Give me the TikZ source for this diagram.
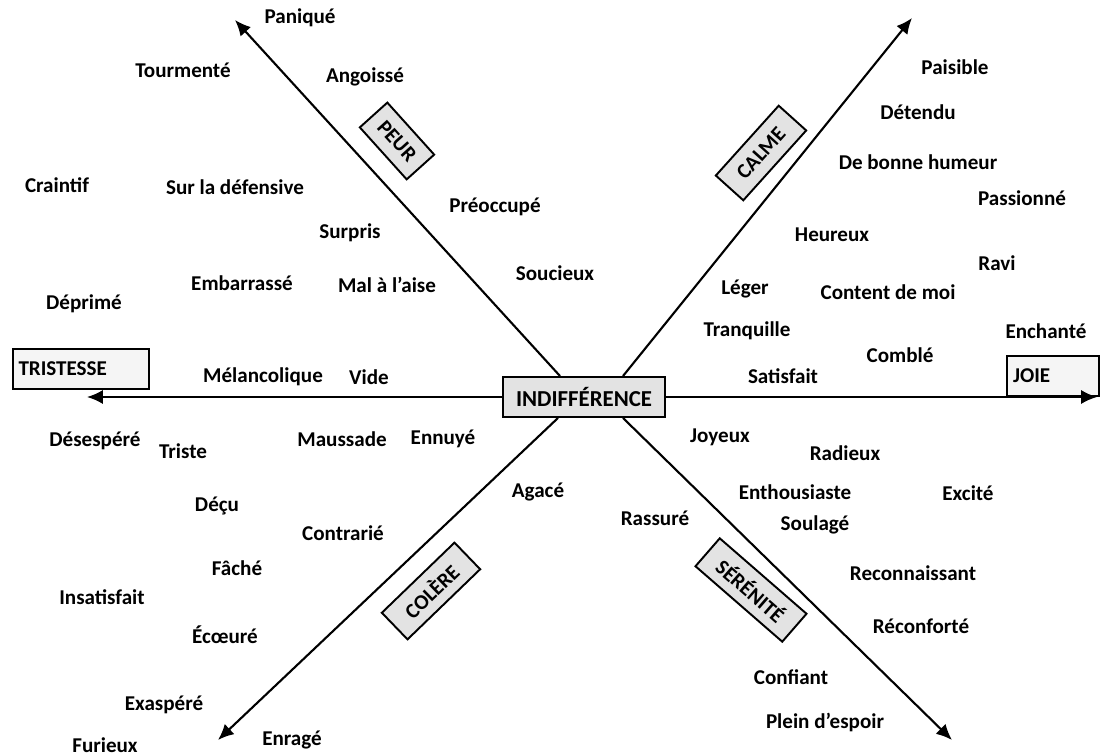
\documentclass[tikz,border=0pt]{standalone}
\usepackage{fontspec}
\setmainfont{Carlito}
\usetikzlibrary{arrows.meta}

\begin{document}
\begin{tikzpicture}[
  x=0.02cm, y=-0.02cm,
  word/.style   = {font=\fontsize{12}{14}\selectfont\bfseries, inner sep=1pt},
  pole/.style   = {draw, line width=1.1pt, fill=gray!8, font=\fontsize{12}{14}\selectfont\bfseries,
                   minimum height=0.8cm, text width=2.5cm, align=left},
  center/.style = {draw, line width=1.1pt, fill=gray!22, font=\fontsize{13}{15}\selectfont\bfseries,
                   minimum width=3.24cm, minimum height=0.8cm},
  tag/.style    = {draw, line width=1.1pt, fill=gray!22, font=\fontsize{12}{14}\selectfont\bfseries,
                   minimum height=0.74cm, inner xsep=3pt},
  arr/.style    = {-{Latex[length=9pt,width=8pt]}, line width=1.2pt}
]
  \useasboundingbox (0,0) rectangle (1101,756);

  %% Center and poles
  \node[center] (ind) at (584,397) {INDIFFÉRENCE};
  \node[pole]   (tristesse) at (81,369) {TRISTESSE};
  \node[pole, text width=1.6cm] (joie) at (1053,376) {JOIE};

  \coordinate (tristip) at (87,397);
  \coordinate (joietip) at (1097,397);
  \coordinate (peurtip) at (235,20);
  \coordinate (calmetip) at (912,18);
  \coordinate (coleretip) at (218,740);
  \coordinate (serenitip) at (952,740);

  \draw[arr] (ind.west) -- (tristip);
  \draw[arr] (ind.east) -- (joietip);
  \draw[arr] ([xshift=-0.48cm]ind.north) -- (peurtip);
  \draw[arr] ([xshift=0.78cm]ind.north)  -- (calmetip);
  \draw[arr] ([xshift=-0.52cm]ind.south) -- (coleretip);
  \draw[arr] ([xshift=0.78cm]ind.south)  -- (serenitip);

  %% Axis tags
  \node[tag, rotate=-48, minimum width=1.4cm]  (peur)     at (397,141) {PEUR};
  \node[tag, rotate=48,  minimum width=1.88cm] (calme)    at (761,153) {CALME};
  \node[tag, rotate=44,  minimum width=2.02cm] (colere)   at (431,591) {COLÈRE};
  \node[tag, rotate=-41, minimum width=2.3cm]  (serenite) at (751,590) {SÉRÉNITÉ};

  %% Upper left
  \node[word] (paniq)   at (300,18)  {Paniqué};
  \node[word] (tourm)   at (183,70)  {Tourmenté};
  \node[word] (angois)  at (365,77)  {Angoissé};
  \node[word] (craint)  at (57,185)  {Craintif};
  \node[word] (defens)  at (235,187) {Sur la défensive};
  \node[word] (preocc)  at (495,207) {Préoccupé};
  \node[word] (surpr)   at (350,233) {Surpris};
  \node[word] (embarr)  at (242,283) {Embarrassé};
  \node[word] (malaise) at (387,285) {Mal à l’aise};
  \node[word] (soucie)  at (555,273) {Soucieux};
  \node[word] (deprim)  at (84,304)  {Déprimé};
  \node[word] (melanc)  at (263,377) {Mélancolique};
  \node[word] (vide)    at (369,377) {Vide};

  %% Upper right
  \node[word] (paisib)  at (955,67)  {Paisible};
  \node[word] (detend)  at (918,112) {Détendu};
  \node[word] (humeur)  at (918,162) {De bonne humeur};
  \node[word] (passio)  at (1022,198) {Passionné};
  \node[word] (heureux) at (832,235) {Heureux};
  \node[word] (ravi)    at (997,263) {Ravi};
  \node[word] (leger)   at (745,289) {Léger};
  \node[word] (content) at (888,292) {Content de moi};
  \node[word] (tranq)   at (747,331) {Tranquille};
  \node[word] (enchant) at (1046,331) {Enchanté};
  \node[word] (combl)   at (900,355) {Comblé};
  \node[word] (satisf)  at (783,376) {Satisfait};

  %% Lower left
  \node[word] (desesp)  at (95,441)  {Désespéré};
  \node[word] (triste)  at (183,451) {Triste};
  \node[word] (mauss)   at (342,439) {Maussade};
  \node[word] (ennuy)   at (443,439) {Ennuyé};
  \node[word] (agace)   at (538,492) {Agacé};
  \node[word] (decu)    at (217,506) {Déçu};
  \node[word] (contrar) at (343,533) {Contrarié};
  \node[word] (fache)   at (237,568) {Fâché};
  \node[word] (insat)   at (102,597) {Insatisfait};
  \node[word] (ecoeur)  at (225,635) {Écœuré};
  \node[word] (exasp)   at (164,705) {Exaspéré};
  \node[word] (furieux) at (105,745) {Furieux};
  \node[word] (enrage)  at (292,740) {Enragé};

  %% Lower right
  \node[word] (joyeux)  at (720,437) {Joyeux};
  \node[word] (radieux) at (845,453) {Radieux};
  \node[word] (enthou)  at (795,492) {Enthousiaste};
  \node[word] (excite)  at (968,493) {Excité};
  \node[word] (rassur)  at (655,518) {Rassuré};
  \node[word] (soulag)  at (815,525) {Soulagé};
  \node[word] (reconn)  at (913,573) {Reconnaissant};
  \node[word] (reconf)  at (921,626) {Réconforté};
  \node[word] (confian) at (791,677) {Confiant};
  \node[word] (espoir)  at (825,722) {Plein d’espoir};
\end{tikzpicture}
\end{document}
